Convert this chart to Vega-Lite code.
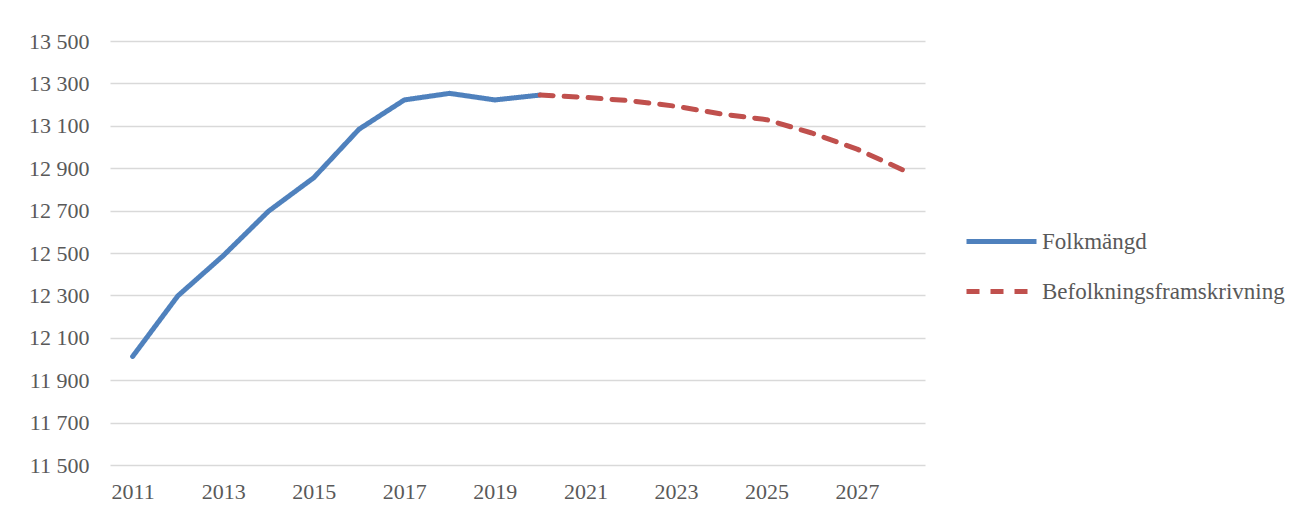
{
  "$schema": "https://vega.github.io/schema/vega-lite/v6.json",
  "width": 815,
  "height": 424,
  "autosize": {"type": "none"},
  "padding": {"left": 110, "top": 41, "right": 376, "bottom": 48},
  "background": "white",
  "config": {
    "view": {"stroke": null},
    "font": "Liberation Serif"
  },
  "data": {
    "values": [
      {"year": 2011, "value": 12012, "series": "Folkmängd"},
      {"year": 2012, "value": 12298, "series": "Folkmängd"},
      {"year": 2013, "value": 12487, "series": "Folkmängd"},
      {"year": 2014, "value": 12697, "series": "Folkmängd"},
      {"year": 2015, "value": 12855, "series": "Folkmängd"},
      {"year": 2016, "value": 13084, "series": "Folkmängd"},
      {"year": 2017, "value": 13222, "series": "Folkmängd"},
      {"year": 2018, "value": 13253, "series": "Folkmängd"},
      {"year": 2019, "value": 13222, "series": "Folkmängd"},
      {"year": 2020, "value": 13245, "series": "Folkmängd"},
      {"year": 2020, "value": 13245, "series": "Befolkningsframskrivning"},
      {"year": 2021, "value": 13234, "series": "Befolkningsframskrivning"},
      {"year": 2022, "value": 13218, "series": "Befolkningsframskrivning"},
      {"year": 2023, "value": 13192, "series": "Befolkningsframskrivning"},
      {"year": 2024, "value": 13156, "series": "Befolkningsframskrivning"},
      {"year": 2025, "value": 13129, "series": "Befolkningsframskrivning"},
      {"year": 2026, "value": 13066, "series": "Befolkningsframskrivning"},
      {"year": 2027, "value": 12990, "series": "Befolkningsframskrivning"},
      {"year": 2028, "value": 12893, "series": "Befolkningsframskrivning"}
    ]
  },
  "mark": {"type": "line", "strokeWidth": 5, "strokeCap": "round", "strokeJoin": "round"},
  "encoding": {
    "x": {
      "field": "year",
      "type": "ordinal",
      "scale": {"domain": [2011,2012,2013,2014,2015,2016,2017,2018,2019,2020,2021,2022,2023,2024,2025,2026,2027,2028], "paddingInner": 0, "paddingOuter": 0.5},
      "axis": {
        "title": null,
        "values": [2011,2013,2015,2017,2019,2021,2023,2025,2027],
        "labelAngle": 0,
        "labelFont": "Liberation Serif",
        "labelFontSize": 22,
        "labelColor": "#595959",
        "labelPadding": 16,
        "ticks": false,
        "domain": false,
        "grid": false
      }
    },
    "y": {
      "field": "value",
      "type": "quantitative",
      "scale": {"domain": [11500, 13500], "nice": false, "zero": false},
      "axis": {
        "title": null,
        "values": [11500,11700,11900,12100,12300,12500,12700,12900,13100,13300,13500],
        "labelExpr": "replace(format(datum.value, ','), ',', ' ')",
        "labelFont": "Liberation Serif",
        "labelFontSize": 22,
        "labelColor": "#595959",
        "labelPadding": 21,
        "ticks": false,
        "domain": false,
        "grid": true,
        "gridColor": "#D9D9D9",
        "gridWidth": 1.5
      }
    },
    "color": {
      "field": "series",
      "type": "nominal",
      "scale": {"domain": ["Folkmängd", "Befolkningsframskrivning"], "range": ["#4F81BD", "#C0504D"]},
      "legend": {
        "title": null,
        "orient": "none",
        "legendX": 854,
        "legendY": 163,
        "symbolType": "stroke",
        "symbolSize": 4900,
        "symbolStrokeWidth": 5,
        "labelFont": "Liberation Serif",
        "labelFontSize": 23,
        "labelColor": "#595959",
        "labelOffset": 3,
        "rowPadding": -38,
        "labelLimit": 400
      }
    },
    "strokeDash": {
      "field": "series",
      "type": "nominal",
      "scale": {"domain": ["Folkmängd", "Befolkningsframskrivning"], "range": [[1, 0], [13, 11]]},
      "legend": {
        "title": null,
        "orient": "none",
        "legendX": 854,
        "legendY": 163,
        "symbolType": "stroke",
        "symbolSize": 4900,
        "symbolStrokeWidth": 5,
        "labelFont": "Liberation Serif",
        "labelFontSize": 23,
        "labelColor": "#595959",
        "labelOffset": 3,
        "rowPadding": -38,
        "labelLimit": 400
      }
    }
  }
}
